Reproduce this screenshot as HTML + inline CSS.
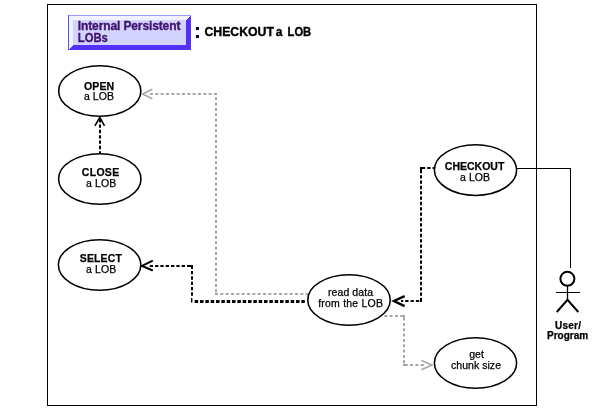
<!DOCTYPE html>
<html><head><meta charset="utf-8">
<style>
html,body{margin:0;padding:0;background:#fff;}
body{width:600px;height:414px;overflow:hidden;font-family:"Liberation Sans",sans-serif;}
svg{display:block;}
text{font-family:"Liberation Sans",sans-serif;}
text{filter:url(#idf);}
.b{font-weight:bold;}
</style></head><body>
<svg width="600" height="414" viewBox="0 0 600 414">
<defs><filter id="idf" x="-5%" y="-50%" width="110%" height="200%" color-interpolation-filters="sRGB"><feOffset dx="0" dy="0"/></filter></defs>
<rect width="600" height="414" fill="#fff"/>
<!-- frame -->
<g shape-rendering="crispEdges">
<rect x="47.5" y="4.5" width="489" height="401" fill="none" stroke="#000" stroke-width="1"/>
<!-- badge -->
<rect x="68" y="15" width="123" height="35" fill="#5530fa"/>
<polygon points="68,15 191,15 186,20 73,20 73,45 68,50" fill="#f2f2ff"/>
<rect x="68" y="15" width="123" height="1" fill="#9999ff"/>
<rect x="68" y="15" width="1" height="35" fill="#5555ff"/>
<rect x="73" y="20" width="113" height="25" fill="#d3d3ff"/>
<!-- colon -->
<rect x="196" y="27" width="3" height="3" fill="#000033"/>
<rect x="196" y="35" width="3" height="3" fill="#000033"/>
</g>
<g class="b" font-size="12" fill="#401570" stroke="#401570" stroke-width="0.35">
<text x="77.8" y="29.8" textLength="102.6" lengthAdjust="spacing">Internal Persistent</text>
<text x="77.8" y="41.7" textLength="30" lengthAdjust="spacingAndGlyphs">LOBs</text>
</g>
<g class="b" font-size="12" fill="#000" stroke="#000" stroke-width="0.35">
<text x="204.4" y="35.8" textLength="69.6" lengthAdjust="spacingAndGlyphs">CHECKOUT</text>
<text x="275.8" y="35.8">a</text>
<text x="287.6" y="35.8" textLength="23.6" lengthAdjust="spacingAndGlyphs">LOB</text>
</g>

<!-- gray dashed -->
<line x1="150" y1="94" x2="217" y2="94" stroke="#a6a6a6" stroke-width="2" stroke-dasharray="3.000 2.333" stroke-dashoffset="0.000"/>
<line x1="216" y1="95" x2="216" y2="293" stroke="#a6a6a6" stroke-width="2" stroke-dasharray="3.000 2.333" stroke-dashoffset="3.003"/>
<line x1="215" y1="294" x2="308.5" y2="294" stroke="#a6a6a6" stroke-width="2" stroke-dasharray="3.000 2.333" stroke-dashoffset="0.000"/>
<line x1="384.3" y1="316" x2="403.6" y2="316" stroke="#a6a6a6" stroke-width="2" stroke-dasharray="3.000 2.333" stroke-dashoffset="0.000"/>
<rect x="403" y="315" width="2" height="2.6" fill="#a6a6a6"/>
<line x1="404" y1="317.6" x2="404" y2="364" stroke="#a6a6a6" stroke-width="2" stroke-dasharray="3.000 2.333" stroke-dashoffset="0.000"/>
<rect x="403" y="364" width="2" height="2" fill="#a6a6a6"/>
<line x1="403" y1="365" x2="424" y2="365" stroke="#a6a6a6" stroke-width="2" stroke-dasharray="3.000 2.333" stroke-dashoffset="3.563"/>
<!-- black dashed -->
<line x1="100" y1="119.2" x2="100" y2="154" stroke="#000" stroke-width="2" stroke-dasharray="3.300 2.033" stroke-dashoffset="0.000"/>
<line x1="149.7" y1="266" x2="190.4" y2="266" stroke="#000" stroke-width="2" stroke-dasharray="3.300 2.033" stroke-dashoffset="0.000"/>
<rect x="190" y="265" width="3" height="2" fill="#000"/>
<line x1="192" y1="267" x2="192" y2="296" stroke="#000" stroke-width="2" stroke-dasharray="3.300 2.033" stroke-dashoffset="1.333"/>
<rect x="191" y="298" width="1.4" height="4.6" fill="#000"/>
<line x1="194.67" y1="301.5" x2="305.2" y2="301.5" stroke="#000" stroke-width="3" stroke-dasharray="3.500 1.833" stroke-dashoffset="0.000"/>
<rect x="420" y="167" width="2" height="3" fill="#000"/>
<line x1="420" y1="168" x2="434.6" y2="168" stroke="#000" stroke-width="2" stroke-dasharray="3.300 2.033" stroke-dashoffset="3.463"/>
<line x1="421" y1="167" x2="421" y2="301" stroke="#000" stroke-width="2" stroke-dasharray="3.300 2.033" stroke-dashoffset="2.463"/>
<rect x="420" y="300" width="2" height="2" fill="#000"/>
<line x1="422" y1="301" x2="401" y2="301" stroke="#000" stroke-width="2" stroke-dasharray="3.300 2.033" stroke-dashoffset="2.533"/>
<g fill="none" stroke="#a6a6a6" stroke-width="1.6">
<polyline points="152.4,89.3 142.6,94 152.4,98.7"/>
<polyline points="421.4,360.4 432,365 421.4,369.8"/>
</g>
<g fill="none" stroke="#000" stroke-width="1.6">
<polyline points="94.9,125.8 99.8,117.4 104.5,125.8"/>
<polyline points="152.8,260.7 142,265.9 152.8,270.5" stroke-width="2"/>
<polyline points="404.6,296.2 394,301 404.6,306.2" stroke-width="2.4"/>
</g>

<!-- solid line to actor -->
<g fill="none" stroke="#000" stroke-width="1" shape-rendering="crispEdges">
<polyline points="516,168.5 570.5,168.5 570.5,268"/>
</g>
<!-- actor -->
<g fill="none" stroke="#000">
<circle cx="567.4" cy="278.8" r="7" stroke-width="2"/>
<line x1="567.5" y1="286" x2="567.5" y2="300" stroke-width="1.3"/>
<line x1="556" y1="292.5" x2="580" y2="292.5" stroke-width="1" shape-rendering="crispEdges"/>
<polyline points="556.8,312 567.5,299.8 578.3,312" stroke-width="2"/>
</g>
<g class="b" font-size="10" stroke="#000" stroke-width="0.25">
<text x="555" y="328.6" textLength="26" lengthAdjust="spacing">User/</text>
<text x="547" y="338.6" textLength="41.2" lengthAdjust="spacing">Program</text>
</g>

<!-- ellipses -->
<g fill="#fff" stroke="#000" stroke-width="1.55">
<ellipse cx="99.75" cy="91" rx="41.1" ry="25.25"/>
<ellipse cx="99.8" cy="179" rx="41.2" ry="25.25"/>
<ellipse cx="99.6" cy="265" rx="41.2" ry="25.25"/>
<ellipse cx="349" cy="300" rx="41.25" ry="25.25"/>
<ellipse cx="475.5" cy="170.1" rx="41.1" ry="25.3"/>
<ellipse cx="475.5" cy="363" rx="41.1" ry="25.25"/>
</g>
<g font-size="10.5" stroke="#000" stroke-width="0.25">
<text x="84" y="89.8" class="b" textLength="30.2">OPEN</text>
<text x="84" y="99.7" textLength="30">a LOB</text>
<text x="81.8" y="176" class="b" textLength="37.4">CLOSE</text>
<text x="86" y="186.7" textLength="30.2">a LOB</text>
<text x="79.8" y="261.9" class="b" textLength="42">SELECT</text>
<text x="86" y="272.8" textLength="30.2">a LOB</text>
<text x="328" y="295.7" textLength="45">read data</text>
<text x="318.2" y="306.7" textLength="64.7">from the LOB</text>
<text x="444.8" y="169.8" class="b" textLength="59.5">CHECKOUT</text>
<text x="460.1" y="180.8" textLength="29.9">a LOB</text>
<text x="469.2" y="357.6" textLength="14.7">get</text>
<text x="451" y="368.7" textLength="50">chunk size</text>
</g>
</svg>
</body></html>
